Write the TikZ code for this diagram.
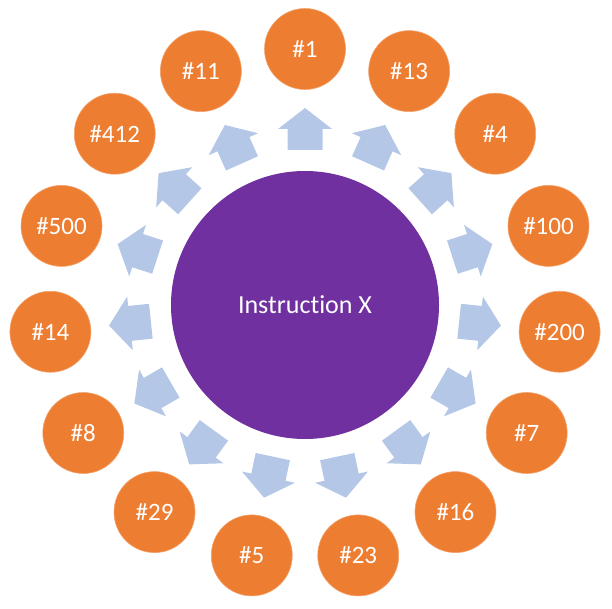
\documentclass[tikz,border=0pt]{standalone}
\usepackage{fontspec}
\setmainfont{Carlito}[Ligatures={NoCommon,NoRare}]
\usetikzlibrary{calc}
\definecolor{orng}{HTML}{ED7D31}
\definecolor{purp}{HTML}{7030A0}
\definecolor{arrblue}{HTML}{B4C7E7}
\tikzset{
  numcircle/.style={circle, fill=orng, draw=orng!70!white, line width=0.6pt, minimum size=81pt, inner sep=0pt, text=white, font=\fontsize{25}{25}\selectfont},
  centercircle/.style={circle, fill=purp, minimum size=268pt, inner sep=0pt, text=white, font=\fontsize{26}{26}\selectfont},
  blockarrow/.style={fill=arrblue, draw=none}
}
\begin{document}
\begin{tikzpicture}[x=1pt,y=1pt]
\useasboundingbox (0,0) rectangle (612,608);
\coordinate (O) at (305,303);
\node[centercircle] (center) at (O) {Instruction X};
\foreach \lab [count=\i from 0] in {1,13,4,100,200,7,16,23,5,29,8,14,500,412,11} {
  \pgfmathsetmacro{\ang}{90-24*\i}
  \node[numcircle] (n\i) at ($(O)+(\ang:256)$) {\#\lab};
  \begin{scope}[shift={(O)}, rotate=\ang]
    \fill[blockarrow] (155,-17.5) -- (176,-17.5) -- (176,-27) -- (197,0) -- (176,27) -- (176,17.5) -- (155,17.5) -- cycle;
  \end{scope}
}
\end{tikzpicture}
\end{document}
